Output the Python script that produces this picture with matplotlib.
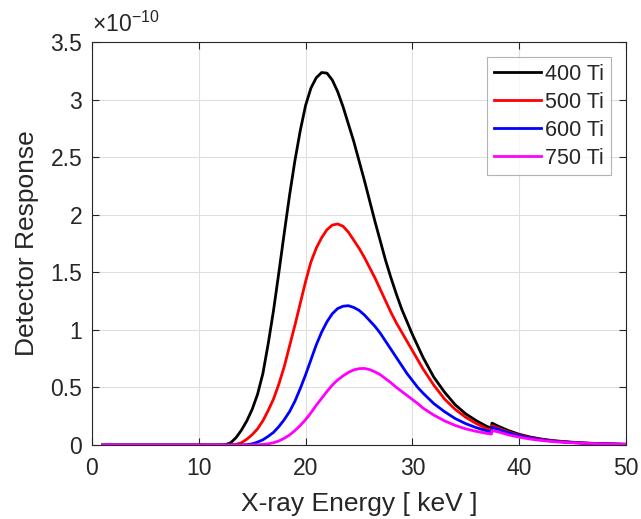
import matplotlib.pyplot as plt
from matplotlib.ticker import FuncFormatter

plt.rcParams['font.family'] = ['Liberation Sans', 'DejaVu Sans']

# energy grid in keV; the small jump sits at ~37.4 keV
energy = [1, 2, 3, 4, 5, 6, 7, 8, 9, 10, 11, 12,
          12.5, 13, 13.5, 14, 14.5, 15, 15.5, 16, 16.5, 17, 17.5, 18, 18.5, 19, 19.5,
          20, 20.5, 21, 21.5, 22, 22.5, 23, 23.5, 24, 24.5, 25, 25.5, 26, 26.5, 27,
          27.5, 28, 28.5, 29, 29.5, 30, 30.5, 31,
          32, 33, 34, 35, 36, 37, 37.4, 37.45,
          38, 39, 40, 41, 42, 43, 44, 45, 46, 47, 48, 49, 50]

# detector response, in units of 1e-10
ti400 = [0] * 12 + [
    0.003, 0.02, 0.065, 0.13, 0.21, 0.31, 0.44, 0.62, 0.88, 1.17, 1.5, 1.84, 2.17, 2.47, 2.73,
    2.95, 3.1, 3.19, 3.235, 3.23, 3.17, 3.07, 2.94, 2.79, 2.64, 2.47, 2.3, 2.12, 1.94, 1.77,
    1.6, 1.45, 1.31, 1.18, 1.07, 0.96, 0.86, 0.76,
    0.59, 0.46, 0.35, 0.27, 0.21, 0.16, 0.148, 0.19,
    0.165, 0.125, 0.093, 0.07, 0.053, 0.04, 0.031, 0.024, 0.018, 0.014, 0.011, 0.008, 0.006]
ti500 = [0] * 12 + [
    0, 0, 0.005, 0.02, 0.05, 0.09, 0.14, 0.21, 0.3, 0.4, 0.53, 0.68, 0.86, 1.04, 1.23,
    1.42, 1.59, 1.71, 1.8, 1.87, 1.91, 1.92, 1.9, 1.85, 1.78, 1.71, 1.63, 1.54, 1.45, 1.35,
    1.25, 1.15, 1.06, 0.98, 0.9, 0.82, 0.74, 0.66,
    0.52, 0.4, 0.31, 0.24, 0.185, 0.14, 0.13, 0.168,
    0.148, 0.113, 0.085, 0.064, 0.049, 0.037, 0.029, 0.022, 0.017, 0.013, 0.01, 0.008, 0.006]
ti600 = [0] * 12 + [
    0, 0, 0, 0, 0.003, 0.01, 0.025, 0.045, 0.075, 0.11, 0.16, 0.22, 0.29, 0.38, 0.49,
    0.61, 0.74, 0.87, 0.98, 1.07, 1.14, 1.185, 1.205, 1.21, 1.195, 1.17, 1.13, 1.08, 1.03, 0.97,
    0.9, 0.83, 0.76, 0.69, 0.62, 0.56, 0.5, 0.45,
    0.36, 0.29, 0.23, 0.185, 0.15, 0.122, 0.113, 0.152,
    0.137, 0.105, 0.08, 0.06, 0.046, 0.035, 0.027, 0.021, 0.016, 0.012, 0.01, 0.008, 0.006]
ti750 = [0] * 12 + [
    0, 0, 0, 0, 0, 0, 0.002, 0.005, 0.01, 0.02, 0.035, 0.058, 0.087, 0.125, 0.17,
    0.22, 0.28, 0.345, 0.405, 0.465, 0.52, 0.565, 0.6, 0.63, 0.652, 0.663, 0.665, 0.655, 0.635, 0.61,
    0.575, 0.54, 0.5, 0.465, 0.43, 0.395, 0.36, 0.32,
    0.26, 0.21, 0.17, 0.14, 0.118, 0.1, 0.095, 0.125,
    0.115, 0.088, 0.068, 0.052, 0.04, 0.031, 0.024, 0.019, 0.015, 0.012, 0.009, 0.007, 0.005]

series = [ti400, ti500, ti600, ti750]
labels = ["400 Ti", "500 Ti", "600 Ti", "750 Ti"]
colors = ["black", "red", "blue", "magenta"]

xticks = [0, 10, 20, 30, 40, 50]
yticks = [0, 0.5, 1, 1.5, 2, 2.5, 3, 3.5]
scale = 1e-10

txt = "#262626"

fig = plt.figure(figsize=(6.41, 5.19), dpi=100)
ax = fig.add_axes([0.1435, 0.1426, 0.8331, 0.7764])

for vals, lab, col in zip(series, labels, colors):
    ax.plot(energy, [v * scale for v in vals], color=col, lw=2.0, label=lab)

ax.set_xlim(0, 50)
ax.set_ylim(0, 3.5 * scale)
ax.set_xticks(xticks)
ax.set_yticks([t * scale for t in yticks])
ax.yaxis.set_major_formatter(FuncFormatter(lambda v, p: "%g" % round(v / scale, 3)))

ax.grid(True, color="#dfdfdf", lw=0.8)
ax.set_axisbelow(True)
ax.tick_params(direction="in", length=5, width=0.8, colors=txt, labelsize=16.5,
               top=True, right=True)
ax.tick_params(axis="x", pad=9)
ax.tick_params(axis="y", pad=7)
for s in ax.spines.values():
    s.set_color(txt)
    s.set_linewidth(0.8)

ax.set_xlabel("X-ray Energy [ keV ]", fontsize=19, color=txt, labelpad=8)
ax.set_ylabel("Detector Response", fontsize=19, color=txt, labelpad=8)
ax.text(0.0, 1.012, "×10$^{\\mathregular{-10}}$", transform=ax.transAxes,
        fontsize=16.5, color=txt, ha="left", va="bottom")

leg = ax.legend(loc="upper right", fontsize=15.5, frameon=True, fancybox=False,
                edgecolor="#a0a0a0", handlelength=2.2, handletextpad=0.2,
                borderpad=0.3, labelspacing=0.33, borderaxespad=0.7)
leg.get_frame().set_linewidth(0.8)
for t in leg.get_texts():
    t.set_color(txt)

fig.savefig("out.png", dpi=100)
